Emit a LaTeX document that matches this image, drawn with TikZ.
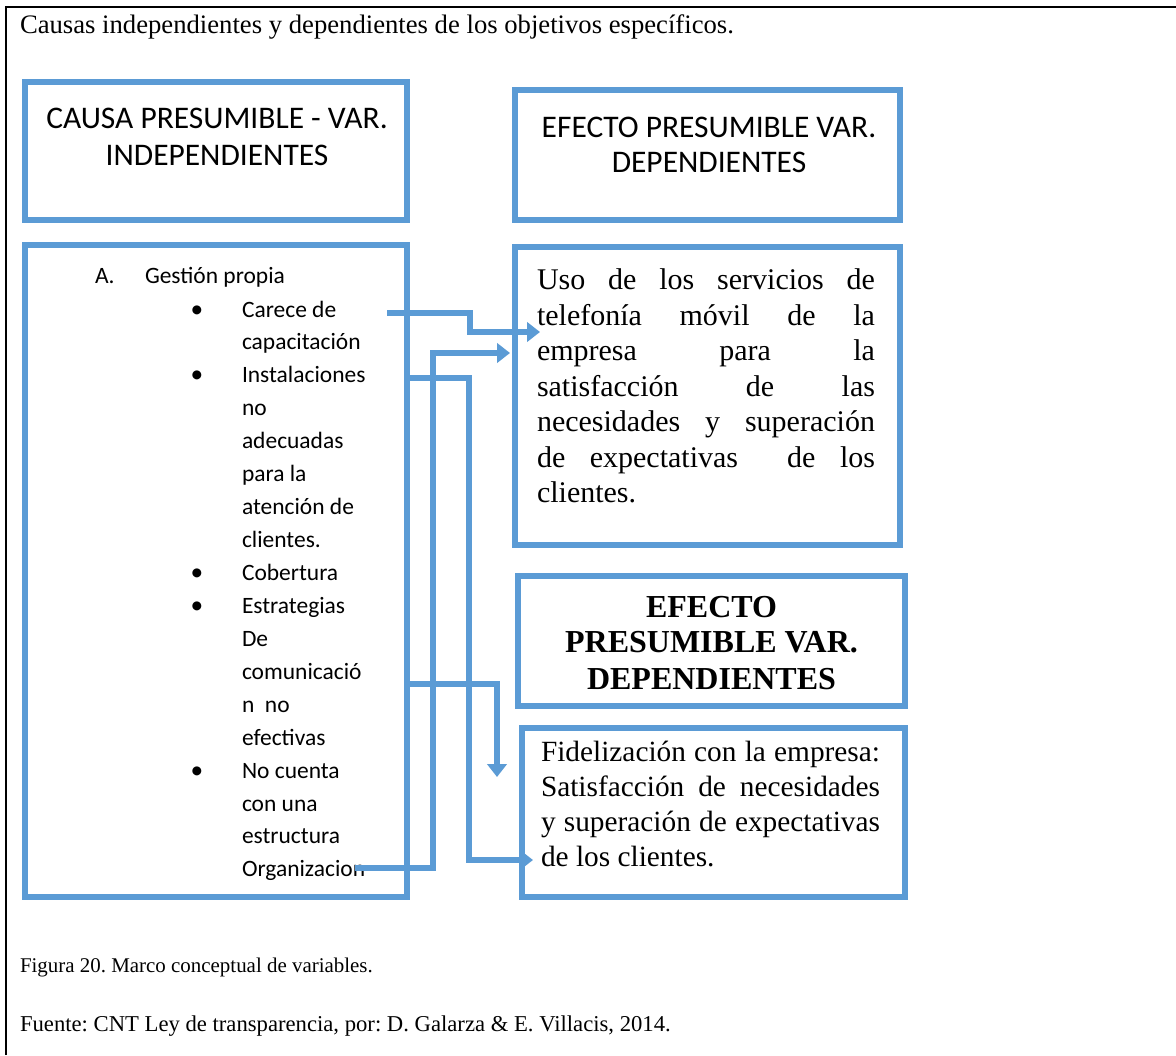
\documentclass[tikz,border=0pt]{standalone}
\usepackage{fontspec}
\usepackage{graphicx}
\setmainfont{Liberation Serif}
\newfontfamily\calfont{Carlito}
\usetikzlibrary{arrows.meta}
\definecolor{boxblue}{HTML}{5B9BD5}
\frenchspacing
\begin{document}
\begin{tikzpicture}[x=0.75pt,y=-0.75pt,
  bx/.style={draw=boxblue,line width=4.2pt,inner sep=0pt,outer sep=0pt,anchor=north west,line join=miter},
  conn/.style={draw=boxblue,line width=3.8pt,line join=miter,-{Triangle[length=9.75pt,width=14.5pt]}},
  txt/.style={inner sep=0pt,outer sep=0pt},
  capt/.style={txt,anchor=base west,font=\fontsize{16.3pt}{19pt}\selectfont},
  head/.style={txt,anchor=base,font=\calfont\fontsize{23.6pt}{28pt}\selectfont},
  boldt/.style={txt,anchor=base,font=\bfseries\fontsize{24pt}{28pt}\selectfont},
  body/.style={txt,anchor=base west}]
\useasboundingbox (0,0) rectangle (1176,1055);
\fill[white] (0,0) rectangle (1176,1055);
% frame
\draw[line width=1.6pt] (6,1055) -- (6,7) -- (1176,7);
% captions
\node[capt,font=\fontsize{20pt}{22pt}\selectfont] (title) at (20,34) {Causas independientes y dependientes de los objetivos específicos.};
\node[capt,font=\fontsize{15.7pt}{19pt}\selectfont] (fig) at (20,972) {Figura 20. Marco conceptual de variables.};
\node[capt,font=\fontsize{17pt}{19pt}\selectfont] (src) at (20,1031) {Fuente: CNT Ley de transparencia, por: D. Galarza \& E. Villacis, 2014.};
% boxes
\node[bx,minimum width=286.5pt,minimum height=103.5pt] (boxA) at (25,82) {};
\node[bx,minimum width=288.75pt,minimum height=97.5pt] (boxB) at (515,90) {};
\node[bx,minimum width=286.5pt,minimum height=489pt] (boxC) at (25,245) {};
\node[bx,minimum width=288.75pt,minimum height=223.5pt] (boxD) at (515,247) {};
\node[bx,minimum width=290.25pt,minimum height=97.5pt] (boxE) at (518,576) {};
\node[bx,minimum width=287.25pt,minimum height=126.75pt] (boxF) at (522,728) {};
% box A / B texts
\node[head] (a1) at (217,129) {CAUSA PRESUMIBLE - VAR.};
\node[head] (a2) at (217,166) {INDEPENDIENTES};
\node[head] (b1) at (709,138) {EFECTO PRESUMIBLE VAR.};
\node[head] (b2) at (709,173) {DEPENDIENTES};
% box C list
\node[body,font=\calfont\fontsize{17.6pt}{24.7pt}\selectfont] (la) at (95,283) {A.};
\node[body,font=\calfont\fontsize{17.6pt}{24.7pt}\selectfont] (lg) at (145,283) {Gestión propia};
\newcommand\bul{\leavevmode\llap{\fontsize{19pt}{19pt}\selectfont\textbullet\hspace{29pt}}}
\node[body] (list) at (242,317) {\parbox[t]{140pt}{\calfont\fontsize{17.6pt}{24.7pt}\selectfont
\bul Carece de\\
capacitación\\
\bul Instalaciones\\
no\\
adecuadas\\
para la\\
atención de\\
clientes.\\
\bul Cobertura\\
\bul Estrategias\\
De\\
comunicació\\
n\ \ no\\
efectivas\\
\bul No cuenta\\
con una\\
estructura\\
Organizacion}};
% box D text
\node[body] (dtext) at (537,290) {\parbox[t]{253.5pt}{\fontsize{22.5pt}{26.6pt}\selectfont
\makebox[253.5pt][s]{Uso de los servicios de}\\
\makebox[253.5pt][s]{telefonía móvil de la}\\
\makebox[253.5pt][s]{empresa para la}\\
\makebox[253.5pt][s]{satisfacción de las}\\
\makebox[253.5pt][s]{necesidades y superación}\\
\makebox[253.5pt][s]{de expectativas \ de los}\\
clientes.}};
% box E text
\node[boldt] (e1t) at (711.5,617) {EFECTO};
\node[boldt] (e2t) at (711.5,652) {PRESUMIBLE VAR.};
\node[boldt] (e3t) at (711.5,689) {DEPENDIENTES};
% box F text
\node[body] (ftext) at (541,761) {\parbox[t]{254.25pt}{\fontsize{22pt}{26.25pt}\selectfont
\makebox[254.25pt][s]{Fidelización con la empresa:}\\
\makebox[254.25pt][s]{Satisfacción de necesidades}\\
\makebox[254.25pt][s]{y superación de expectativas}\\
de los clientes.}};
% connectors
\coordinate (s1) at (387,313); \coordinate (t1) at (540,332);
\coordinate (s2) at (355,868); \coordinate (t2) at (510,353);
\coordinate (s3) at (404,378); \coordinate (t3) at (533,860);
\coordinate (s4) at (407,684); \coordinate (t4) at (497,777);
\draw[conn] (s1) -- ++(83,0) |- (t1);
\draw[conn] (s2) -- ++(78,0) |- (t2);
\draw[conn] (s3) -- ++(65,0) |- (t3);
\draw[conn] (s4) -| (t4);
\end{tikzpicture}
\end{document}
